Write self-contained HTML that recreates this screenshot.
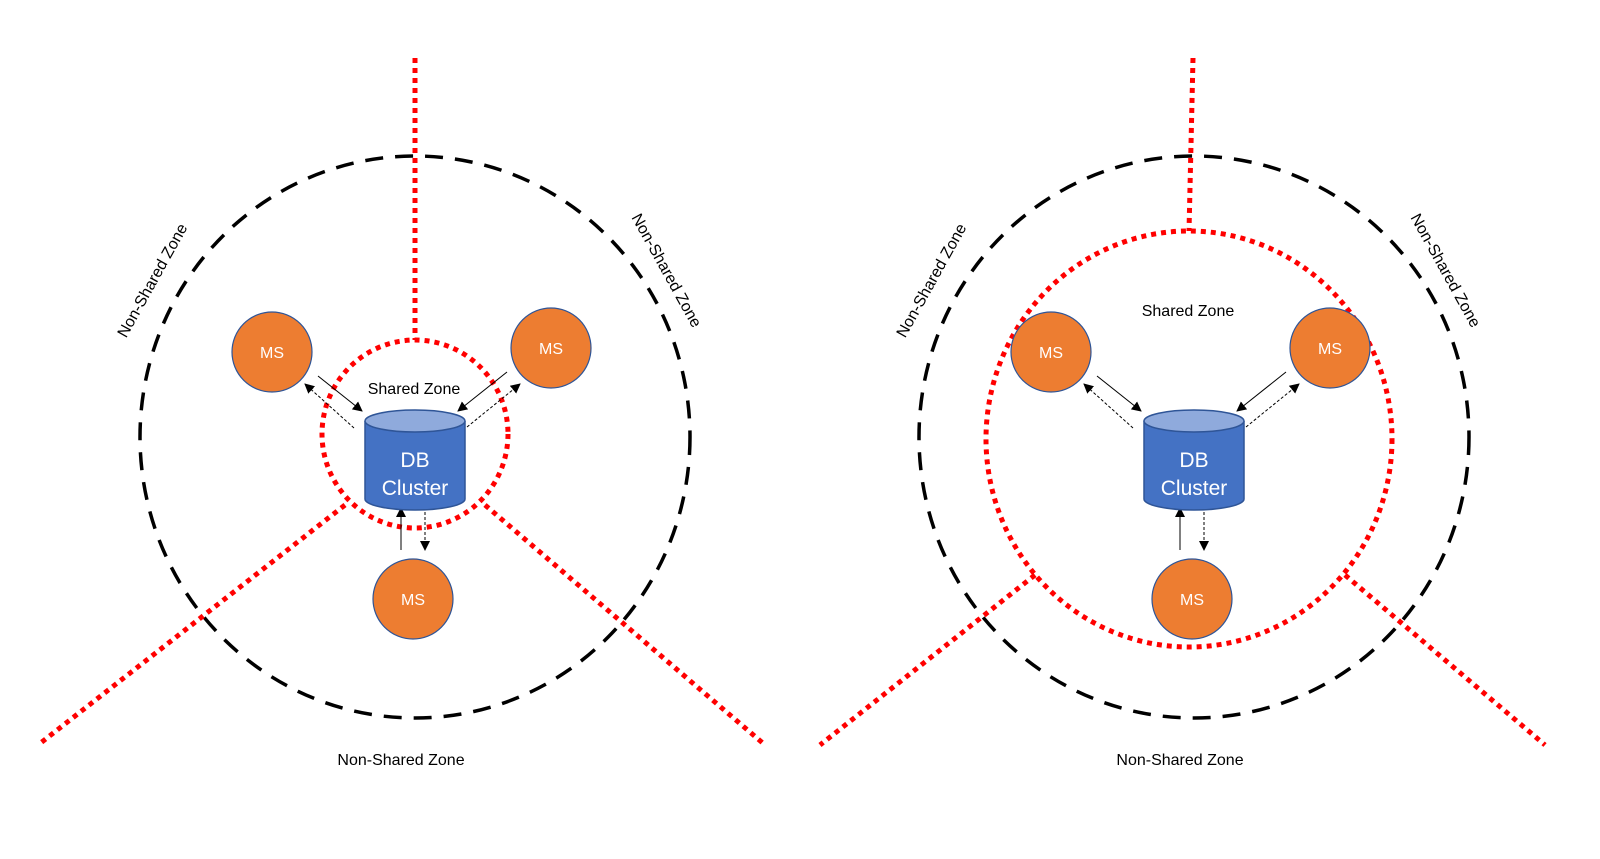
<!DOCTYPE html>
<html><head><style>body{margin:0;background:#fff}svg{display:block}text{font-family:"Liberation Sans",sans-serif}</style></head><body>
<svg width="1600" height="859" viewBox="0 0 1600 859" xmlns="http://www.w3.org/2000/svg">
<defs>
<marker id="ah" markerWidth="10" markerHeight="10" refX="9" refY="5" orient="auto" markerUnits="userSpaceOnUse"><path d="M0,0 L10,5 L0,10 z" fill="#000"/></marker>
<g id="ms"><circle r="40" fill="#ED7D31" stroke="#2F5597" stroke-width="1.2"/><text y="6" text-anchor="middle" font-size="16" fill="#fff">MS</text></g>
<g id="db">
<path d="M-50,0 L-50,78 A50,11 0 0 0 50,78 L50,0" fill="#4472C4" stroke="#2F5597" stroke-width="1.5"/>
<ellipse cx="0" cy="0" rx="50" ry="11" fill="#8FAADC" stroke="#2F5597" stroke-width="1.5"/>
<text y="46" text-anchor="middle" font-size="21" fill="#fff">DB</text>
<text y="74" text-anchor="middle" font-size="21" fill="#fff">Cluster</text>
</g>
<g id="arrows" stroke="#000" stroke-width="1" fill="none">
<line x1="-97" y1="-56" x2="-53" y2="-21" marker-end="url(#ah)"/>
<line x1="-61" y1="-4" x2="-110" y2="-48" stroke-dasharray="3,2" marker-end="url(#ah)"/>
<line x1="92" y1="-60" x2="43" y2="-21" marker-end="url(#ah)"/>
<line x1="52" y1="-5" x2="105" y2="-48" stroke-dasharray="3,2" marker-end="url(#ah)"/>
<line x1="-14" y1="118" x2="-14" y2="76" marker-end="url(#ah)"/>
<line x1="10" y1="80" x2="10" y2="118" stroke-dasharray="3,2" marker-end="url(#ah)"/>
</g>
</defs>
<g fill="none">
<!-- left -->
<ellipse cx="415" cy="437" rx="275" ry="281" stroke="#000" stroke-width="3.5" stroke-dasharray="18,12"/>
<g stroke="#f00" stroke-width="5" stroke-dasharray="5,5">
<line x1="415" y1="58" x2="415" y2="340"/>
<ellipse cx="415" cy="434" rx="93" ry="94"/>
<line x1="345" y1="505" x2="38" y2="745"/>
<line x1="485" y1="505" x2="765" y2="745"/>
</g>
<!-- right -->
<ellipse cx="1194" cy="437" rx="275" ry="281" stroke="#000" stroke-width="3.5" stroke-dasharray="18,12"/>
<g stroke="#f00" stroke-width="5" stroke-dasharray="5,5">
<line x1="1193" y1="58" x2="1189" y2="231"/>
<ellipse cx="1189" cy="439" rx="203" ry="208"/>
<line x1="1035" y1="575" x2="820" y2="745"/>
<line x1="1345" y1="575" x2="1545" y2="745"/>
</g>
</g>
<use href="#arrows" x="415" y="432"/>
<use href="#arrows" x="1194" y="432"/>
<use href="#db" x="415" y="421"/>
<use href="#db" x="1194" y="421"/>
<use href="#ms" x="272" y="352"/><use href="#ms" x="551" y="348"/><use href="#ms" x="413" y="599"/>
<use href="#ms" x="1051" y="352"/><use href="#ms" x="1330" y="348"/><use href="#ms" x="1192" y="599"/>
<g font-size="16" fill="#000">
<text x="414" y="394" text-anchor="middle">Shared Zone</text>
<text x="1188" y="316" text-anchor="middle">Shared Zone</text>
<text x="401" y="765" text-anchor="middle">Non-Shared Zone</text>
<text x="1180" y="765" text-anchor="middle">Non-Shared Zone</text>
<text transform="translate(157,283) rotate(-61)" text-anchor="middle">Non-Shared Zone</text>
<text transform="translate(662,273) rotate(61)" text-anchor="middle">Non-Shared Zone</text>
<text transform="translate(936,283) rotate(-61)" text-anchor="middle">Non-Shared Zone</text>
<text transform="translate(1441,273) rotate(61)" text-anchor="middle">Non-Shared Zone</text>
</g>
</svg>
</body></html>
